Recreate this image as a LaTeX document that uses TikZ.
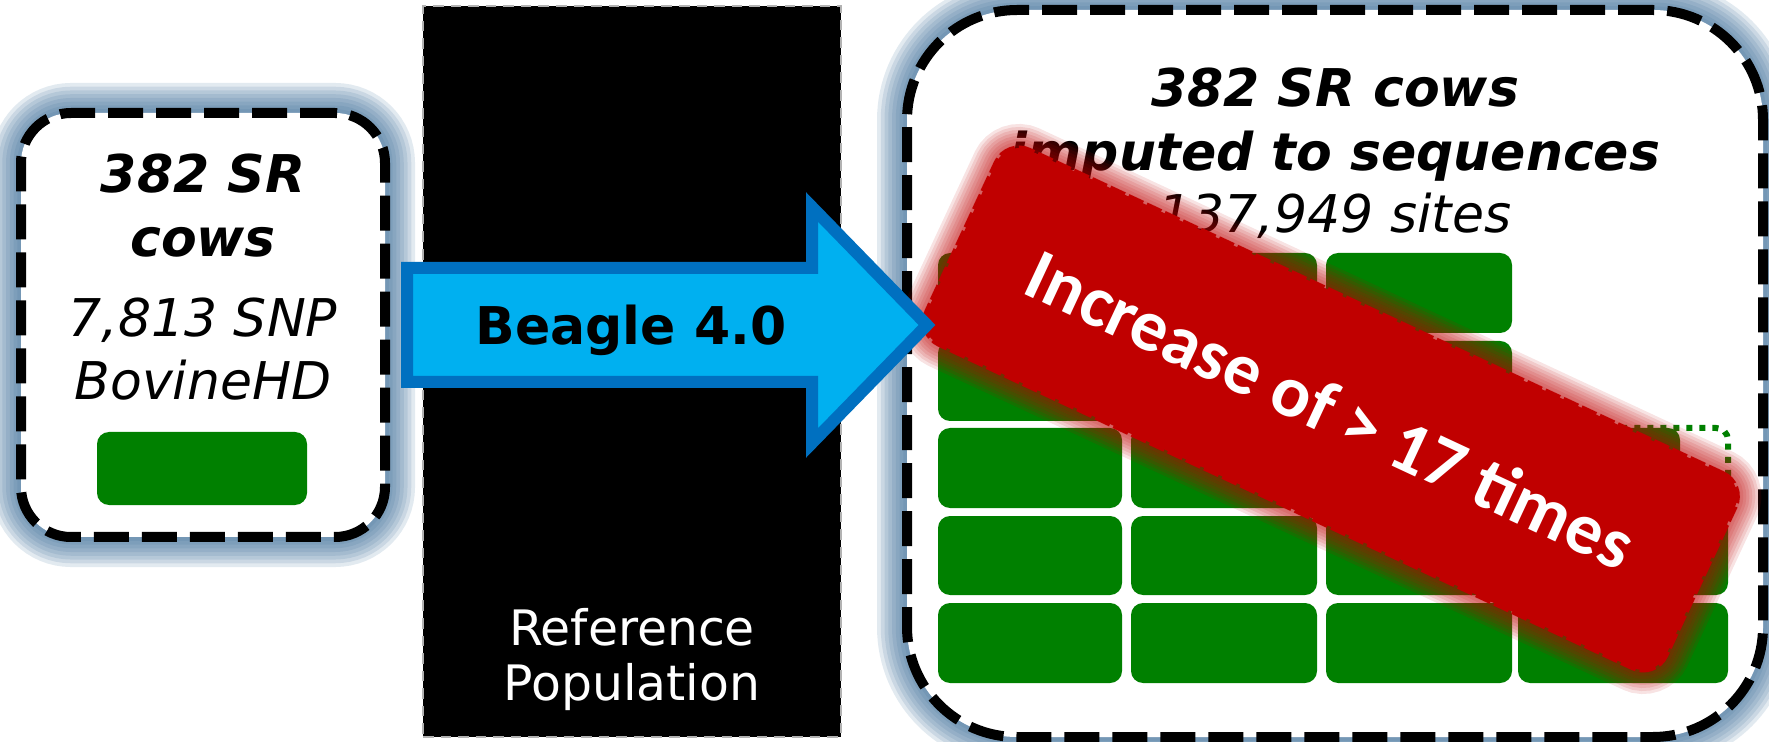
\documentclass[tikz,border=0pt]{standalone}
\usepackage{fontspec}
\setmainfont{DejaVu Sans}
\newfontfamily\bannerfont{Carlito}
\usepackage{tikz}

\definecolor{glowblue}{HTML}{3F6F99}
\definecolor{chipgreen}{HTML}{008000}
\definecolor{gainred}{HTML}{C00000}
\definecolor{arrowfill}{HTML}{00B0F0}
\definecolor{arrowline}{HTML}{0070C0}

\begin{document}
\begin{tikzpicture}[x=0.1mm, y=0.1mm,
    panel/.style={shape=rectangle, inner sep=0pt, outer sep=0pt, fill=white, draw=black,
      line width=1mm, dash pattern=on 3.5mm off 1.3mm},
    glow/.style={draw=glowblue, opacity=0.15},
    redglow/.style={draw=gainred, opacity=0.11},
    chip/.style={fill=chipgreen, rounded corners=1.2mm},
    txt/.style={anchor=base, inner sep=0pt, font=\fontsize{14.8}{17}\selectfont\itshape},
    bold/.style={anchor=base, inner sep=0pt, font=\fontsize{14.8}{17}\selectfont\bfseries\itshape},
    beagle/.style={fill=arrowfill, draw=arrowline, line width=1.2mm, line join=miter},
    banner/.style={shape=rectangle, rotate=-25, inner sep=0pt, minimum width=81.5mm,
      minimum height=21.4mm, rounded corners=2.5mm, fill=gainred, draw=gainred,
      line width=0.5mm, dash pattern=on 1.6mm off 0.4mm, text=white,
      font=\bannerfont\fontsize{20.8}{24}\selectfont\bfseries}]
    \useasboundingbox (0,0) rectangle (1769,-742);

    % soft glow behind the two panels
    \foreach \w in {1,...,8} {
      \draw[glow, line width=\w*0.75mm, rounded corners=5mm] (21,-113) rectangle (385,-537);
      \draw[glow, line width=\w*0.75mm, rounded corners=11mm] (907,-10) rectangle (1763,-737);
    }
    \node[panel, rounded corners=5mm, minimum width=36.4mm, minimum height=42.4mm] (snp) at (203,-325) {};
    \node[panel, rounded corners=11mm, minimum width=85.6mm, minimum height=72.7mm] (seq) at (1335,-373.5) {};

    % reference population
    \node[shape=rectangle, fill=black, draw=gray!60, densely dashed, line width=0.15mm, inner sep=0pt,
      minimum width=41.8mm, minimum height=73.1mm] (refpop) at (632,-371.5) {};
    \node[anchor=base, inner sep=0pt, text=white, font=\fontsize{13.9}{17}\selectfont] (ref1) at (632,-645) {Reference};
    \node[anchor=base, inner sep=0pt, text=white, font=\fontsize{13.9}{17}\selectfont] (ref2) at (632,-700) {Population};

    % left panel
    \node[bold] (snp1) at (203,-193) {382 SR};
    \node[bold] (snp2) at (203,-257) {cows};
    \node[txt] (snp3) at (203,-337) {7,813 SNP};
    \node[txt] (snp4) at (203,-400) {BovineHD};
    \fill[chip] (97,-432) rectangle (307,-505);

    % right panel
    \node[bold] (seq1) at (1335,-107) {382 SR cows};
    \node[bold] (seq2) at (1335,-171) {imputed to sequences};
    \node[txt] (seq3) at (1335,-233) {137,949 sites};
    \foreach \xa/\xb in {938/1122,1131/1317,1326/1512}
      \foreach \ya/\yb in {253/333,341/421,428/508}
        \fill[chip] (\xa,-\ya) rectangle (\xb,-\yb);
    \foreach \xa/\xb in {938/1122,1131/1317,1326/1512,1518/1728}
      \foreach \ya/\yb in {516/595,603/683}
        \fill[chip] (\xa,-\ya) rectangle (\xb,-\yb);
    \fill[chip] (1518,-428) rectangle (1680,-508);
    \draw[chipgreen, dotted, line width=0.6mm, rounded corners=1.2mm] (1518,-428) rectangle (1728,-508);

    % banner
    \begin{scope}[shift={(1331,-409)}, rotate=-25]
      \foreach \w in {1,...,8}
        \draw[redglow, line width=\w*0.6mm, rounded corners=2.5mm] (-407.5,-107) rectangle (407.5,107);
    \end{scope}
    \node[banner] (gain) at (1331,-409) {Increase of > 17 times};

    % imputation step
    \draw[beagle] (407,-268) -- (812,-268) -- (812,-207) -- (927,-325) -- (812,-443)
      -- (812,-382) -- (407,-382) -- cycle;
    \node[anchor=base, inner sep=0pt, font=\fontsize{14.8}{17}\selectfont\bfseries] (beagletxt) at (631,-345) {Beagle 4.0};
\end{tikzpicture}
\end{document}
